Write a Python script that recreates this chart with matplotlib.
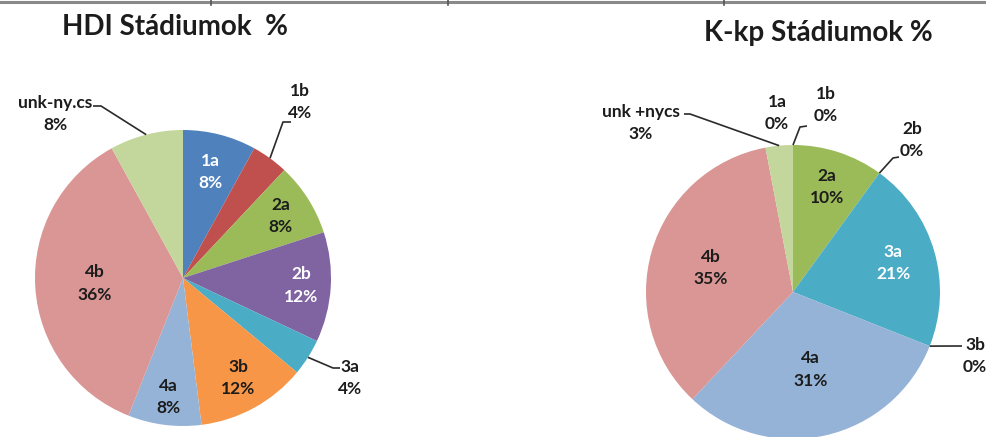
import matplotlib
matplotlib.use('Agg')
import matplotlib.pyplot as plt
from matplotlib.lines import Line2D
import numpy as np

# Stage distribution data
hdi_title = 'HDI Stádiumok  %'
hdi_labels = ['1a', '1b', '2a', '2b', '3a', '3b', '4a', '4b', 'unk-ny.cs']
hdi_values = [8, 4, 8, 12, 4, 12, 8, 36, 8]

kkp_title = 'K-kp Stádiumok %'
kkp_labels = ['1a', '1b', '2a', '2b', '3a', '3b', '4a', '4b', 'unk +nycs']
kkp_values = [0, 0, 10, 0, 21, 0, 31, 35, 3]

stage_colors = ['#4F81BD', '#C0504D', '#9BBB59', '#8064A2', '#4BACC6',
                '#F79646', '#95B3D7', '#D99694', '#C3D69B']

W, H = 987, 437
DARK = '#1c1c1c'
FONT = ['Lato', 'DejaVu Sans']

fig = plt.figure(figsize=(W / 100, H / 100), dpi=100)
fig.patch.set_facecolor('white')
ax = fig.add_axes([0, 0, 1, 1])


def Y(y):
    """Pixel row (from top) to data y (from bottom)."""
    return H - y


def draw_pie(values, labels, center, radius, placements):
    wedges, _ = ax.pie(values, colors=stage_colors, startangle=90,
                       counterclock=False, center=(center[0], Y(center[1])),
                       radius=radius, wedgeprops=dict(linewidth=0))
    for w, lab, val, pl in zip(wedges, labels, values, placements):
        text = f'{lab}\n{val}%'
        mid = np.deg2rad((w.theta1 + w.theta2) / 2)
        cx, cy = w.center
        kw = dict(ha='center', va='center', multialignment='center',
                  fontsize=12.5, fontweight='bold', family=FONT, linespacing=1.5)
        if pl[0] == 'in':
            frac, color = pl[1], pl[2]
            ax.text(cx + frac * radius * np.cos(mid),
                    cy + frac * radius * np.sin(mid), text, color=color, **kw)
        else:
            tx, ty = pl[1]
            ax.text(tx, Y(ty), text, color=DARK, **kw)
            if len(pl) > 2:
                xs = [cx + radius * np.cos(mid)] + [p[0] for p in pl[2]]
                ys = [cy + radius * np.sin(mid)] + [Y(p[1]) for p in pl[2]]
                ax.plot(xs, ys, color='#2a2a2a', lw=1.2, solid_capstyle='butt')


hdi_place = [
    ('in', 0.74, 'white'),
    ('out', (300, 102), [(283, 122), (291, 122)]),
    ('in', 0.78, DARK),
    ('in', 0.80, 'white'),
    ('out', (350, 378), [(333, 368), (340, 368)]),
    ('in', 0.77, DARK),
    ('in', 0.81, DARK),
    ('in', 0.60, DARK),
    ('out', (55, 114), [(101, 106), (93, 106)]),
]

kkp_place = [
    ('out', (777, 113)),
    ('out', (826, 105), [(800, 127), (807, 126)]),
    ('in', 0.75, DARK),
    ('out', (912, 140), [(893, 158), (899, 157)]),
    ('in', 0.71, 'white'),
    ('out', (975, 356), [(958, 346), (962, 346)]),
    ('in', 0.54, DARK),
    ('in', 0.58, DARK),
    ('out', (641, 123), [(690, 114), (684, 114)]),
]

draw_pie(hdi_values, hdi_labels, (183, 278), 148, hdi_place)
draw_pie(kkp_values, kkp_labels, (793, 292), 147, kkp_place)

ax.text(175, Y(27), hdi_title, ha='center', va='center', fontsize=20,
        fontweight='bold', family=FONT, color=DARK)
ax.text(818, Y(33), kkp_title, ha='center', va='center', fontsize=20,
        fontweight='bold', family=FONT, color=DARK)

ax.set_xlim(0, W)
ax.set_ylim(0, H)
ax.set_aspect('equal')
ax.axis('off')

# Thin rule along the top edge with small tick marks
fig.add_artist(Line2D([0, 1], [1 - 1.5 / H] * 2, transform=fig.transFigure,
                      color='#8a8a8a', lw=2.2))
for xt in (211, 448, 724):
    fig.add_artist(Line2D([xt / W] * 2, [1, 1 - 5 / H], transform=fig.transFigure,
                          color='#555555', lw=1.2))

fig.savefig('out.png', dpi=100, facecolor='white')
